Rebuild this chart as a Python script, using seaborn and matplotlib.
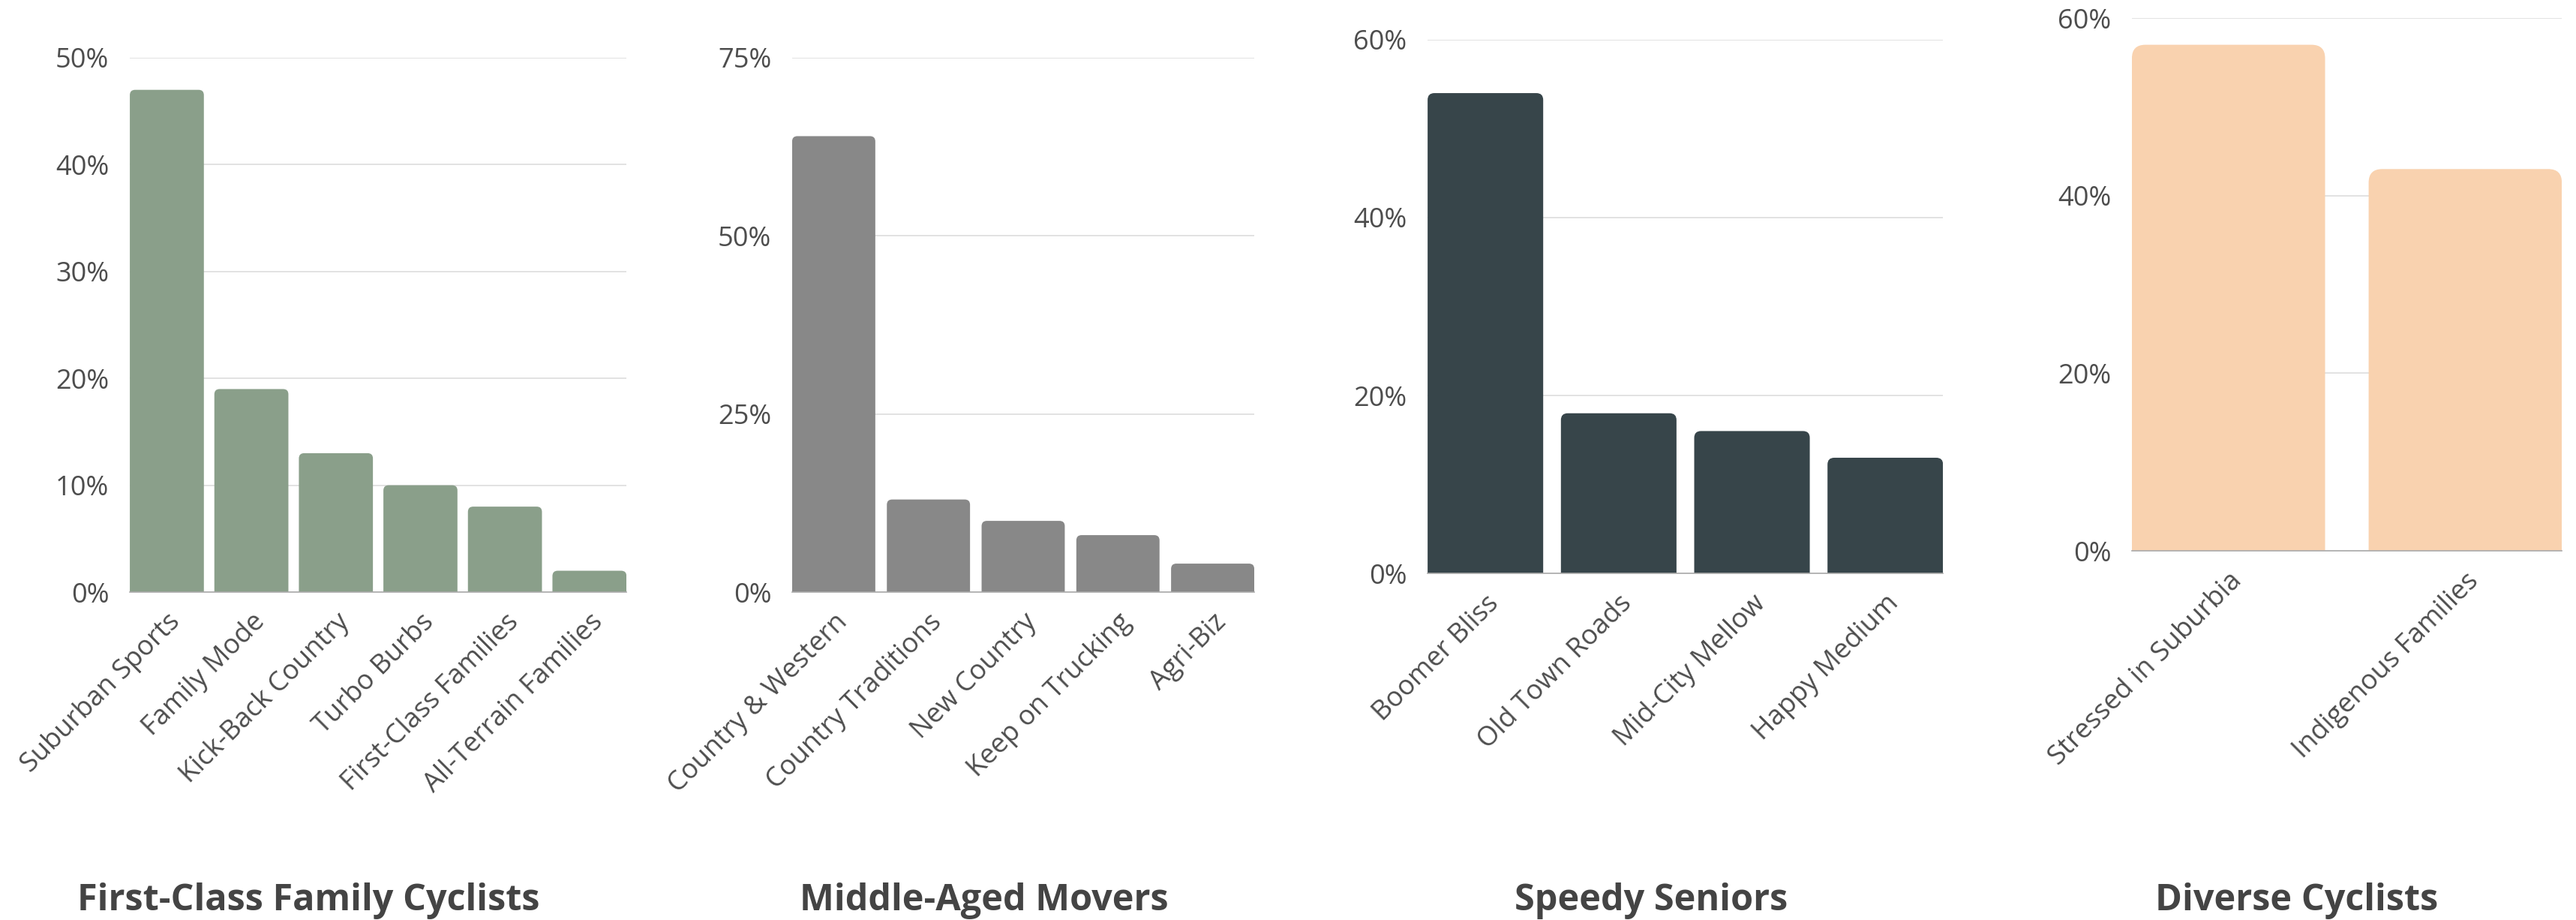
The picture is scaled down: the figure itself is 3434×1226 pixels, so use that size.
import pandas as pd
import matplotlib
matplotlib.use("Agg")
import matplotlib.pyplot as plt
from matplotlib.patches import FancyBboxPatch
from matplotlib.ticker import FuncFormatter
import seaborn as sns

# Data (percent of segment)
cyclist_segments = ["Suburban Sports", "Family Mode", "Kick-Back Country",
                    "Turbo Burbs", "First-Class Families", "All-Terrain Families"]
cyclist_values = [47, 19, 13, 10, 8, 2]

movers_segments = ["Country & Western", "Country Traditions", "New Country",
                   "Keep on Trucking", "Agri-Biz"]
movers_values = [64, 13, 10, 8, 4]

seniors_segments = ["Boomer Bliss", "Old Town Roads", "Mid-City Mellow", "Happy Medium"]
seniors_values = [54, 18, 16, 13]

diverse_segments = ["Stressed in Suburbia", "Indigenous Families"]
diverse_values = [57, 43]

titles = ["First-Class Family Cyclists", "Middle-Aged Movers",
          "Speedy Seniors", "Diverse Cyclists"]
colors = ["#8A9F8A", "#888888", "#37454A", "#F9D2AF"]
y_ticks = [[0, 10, 20, 30, 40, 50], [0, 25, 50, 75], [0, 20, 40, 60], [0, 20, 40, 60]]

sns.set_theme(style="white")
plt.rcParams["font.family"] = ["Open Sans", "DejaVu Sans"]

fig = plt.figure(figsize=(17.17, 6.13), dpi=200)

# axes boxes [left, bottom, width, height] in figure fractions
boxes = [[0.0504, 0.3564, 0.1928, 0.5808],
         [0.3075, 0.3564, 0.1794, 0.5808],
         [0.5542, 0.3768, 0.2001, 0.5800],
         [0.8276, 0.4013, 0.1669, 0.5790]]
bar_widths = [0.876, 0.878, 0.867, 0.816]
title_x = [0.1199, 0.382, 0.641, 0.8916]
radius_px = [7, 7, 9, 18]

panels = [(cyclist_segments, cyclist_values), (movers_segments, movers_values),
          (seniors_segments, seniors_values), (diverse_segments, diverse_values)]

fig_w_px = fig.get_figwidth() * fig.dpi
fig_h_px = fig.get_figheight() * fig.dpi

for i, (segs, vals) in enumerate(panels):
    ax = fig.add_axes(boxes[i])
    df = pd.DataFrame({"segment": segs, "share": vals})
    bw = bar_widths[i]
    sns.barplot(data=df, x="segment", y="share", color=colors[i],
                width=bw, linewidth=0, saturation=1, ax=ax)
    # bars run edge to edge of the plot area
    ax.set_xlim(-bw / 2, len(segs) - 1 + bw / 2)
    ax.set_ylim(0, y_ticks[i][-1])
    ax.set_yticks(y_ticks[i])
    ax.yaxis.set_major_formatter(FuncFormatter(lambda v, p: f"{v:.0f}%"))
    ax.grid(axis="y", color="#DDDDDD", linewidth=0.6)
    ax.set_axisbelow(True)
    for s in ["left", "right", "top"]:
        ax.spines[s].set_visible(False)
    ax.spines["bottom"].set_color("#AAAAAA")
    ax.spines["bottom"].set_linewidth(0.6)
    ax.set_xlabel("")
    ax.set_ylabel("")
    ax.tick_params(axis="y", length=0, labelsize=13, labelcolor="#4D4D4D", pad=10)
    ax.tick_params(axis="x", length=0, labelsize=13, labelcolor="#4D4D4D", pad=8)
    plt.setp(ax.get_xticklabels(), rotation=45, ha="right", rotation_mode="anchor")

    # rounded tops: rebuild each seaborn bar as a rounded box, bottom corners clipped below 0
    w_px = boxes[i][2] * fig_w_px
    h_px = boxes[i][3] * fig_h_px
    rx = radius_px[i] * (len(segs) - 1 + bw) / w_px
    ry = radius_px[i] * y_ticks[i][-1] / h_px
    for bar in list(ax.patches):
        x0, w, h = bar.get_x(), bar.get_width(), bar.get_height()
        rounded = FancyBboxPatch((x0, -ry), w, h + ry,
                                 boxstyle=f"round,pad=0,rounding_size={rx}",
                                 mutation_aspect=ry / rx,
                                 facecolor=bar.get_facecolor(), edgecolor="none",
                                 zorder=2)
        bar.remove()
        ax.add_patch(rounded)

    fig.text(title_x[i], 0.021, titles[i], ha="center", va="center",
             fontsize=17.5, fontweight="bold", color="#444444")

fig.savefig("out.png", dpi=200)
